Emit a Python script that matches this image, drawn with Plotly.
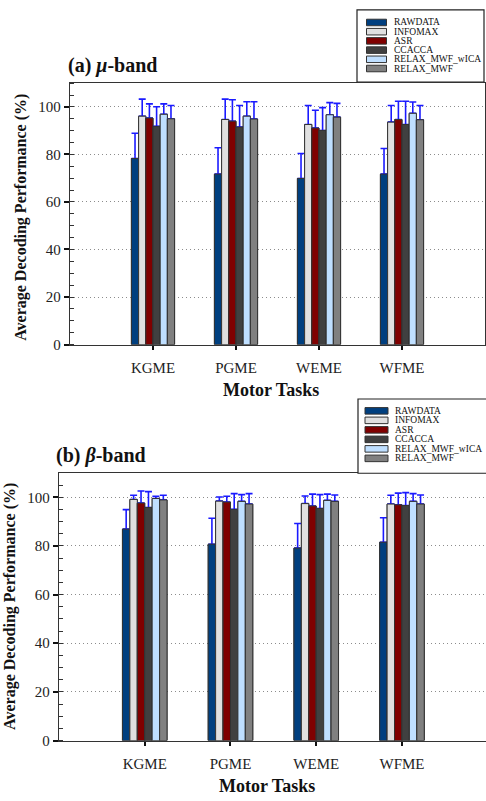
import plotly.graph_objects as go

# ---- data -------------------------------------------------------------
tasks = ["KGME", "PGME", "WEME", "WFME"]
methods = ["RAWDATA", "INFOMAX", "ASR", "CCACCA", "RELAX_MWF_wICA", "RELAX_MWF"]
colors = ["#003f7f", "#e0e0e0", "#800000", "#404040", "#bfdfff", "#808080"]

# (a) mu-band: mean decoding performance (%) and standard deviation
mu_rawdata = [78.3, 71.7, 69.9, 71.7]
mu_infomax = [96.1, 94.7, 92.6, 93.6]
mu_asr = [95.3, 94.0, 91.1, 94.7]
mu_ccacca = [91.8, 91.5, 90.1, 92.6]
mu_relax_wica = [96.9, 96.1, 96.7, 97.3]
mu_relax = [95.0, 94.9, 95.7, 94.6]

mu_rawdata_sd = [10.6, 11.1, 10.5, 10.8]
mu_infomax_sd = [7.2, 8.6, 8.0, 7.0]
mu_asr_sd = [6.0, 9.0, 7.5, 7.7]
mu_ccacca_sd = [8.3, 9.1, 9.6, 9.8]
mu_relax_wica_sd = [4.4, 6.1, 5.1, 4.8]
mu_relax_sd = [5.6, 7.3, 5.8, 6.0]

# (b) beta-band
beta_rawdata = [86.9, 80.7, 79.1, 81.5]
beta_infomax = [99.1, 98.4, 97.4, 97.2]
beta_asr = [97.6, 98.0, 96.4, 96.9]
beta_ccacca = [95.8, 95.0, 95.4, 96.6]
beta_relax_wica = [99.5, 98.3, 98.7, 98.3]
beta_relax = [98.9, 97.2, 98.3, 97.2]

beta_rawdata_sd = [8.0, 10.7, 10.1, 10.1]
beta_infomax_sd = [1.7, 1.7, 3.1, 3.6]
beta_asr_sd = [5.0, 2.4, 4.9, 4.8]
beta_ccacca_sd = [6.5, 6.5, 5.7, 5.3]
beta_relax_wica_sd = [0.9, 2.8, 2.6, 3.2]
beta_relax_sd = [1.9, 4.3, 2.6, 3.7]

y_ticks = [0, 20, 40, 60, 80, 100]

mu_means = [mu_rawdata, mu_infomax, mu_asr, mu_ccacca, mu_relax_wica, mu_relax]
mu_sds = [mu_rawdata_sd, mu_infomax_sd, mu_asr_sd, mu_ccacca_sd, mu_relax_wica_sd, mu_relax_sd]
beta_means = [beta_rawdata, beta_infomax, beta_asr, beta_ccacca, beta_relax_wica, beta_relax]
beta_sds = [beta_rawdata_sd, beta_infomax_sd, beta_asr_sd, beta_ccacca_sd, beta_relax_wica_sd, beta_relax_sd]

# ---- page geometry helpers (pixels -> paper) ---------------------------
W, H = 486, 801
SERIF = "Liberation Serif"


def px(x):
    return x / W


def py(y):
    return 1 - y / H


fig = go.Figure()

panels = [("x", "y", mu_means, mu_sds), ("x2", "y2", beta_means, beta_sds)]
for xa, ya, means, sds in panels:
    for name, color, m, s in zip(methods, colors, means, sds):
        # one-sided (upper) error bar, then the bar itself on top of its base cap
        fig.add_trace(go.Bar(
            x=tasks, y=m, xaxis=xa, yaxis=ya, offsetgroup=name,
            marker=dict(color=color, line=dict(color="#333333", width=1)),
            error_y=dict(type="data", symmetric=False, array=s,
                         arrayminus=[0] * len(s), color="#1a1aff",
                         thickness=1.6, width=3.5),
            showlegend=False, hoverinfo="skip",
        ))
        fig.add_trace(go.Bar(
            x=tasks, y=m, xaxis=xa, yaxis=ya, offsetgroup=name, name=name,
            marker=dict(color=color, line=dict(color="#333333", width=1)),
            showlegend=False,
        ))

axis_line = dict(showline=True, linecolor="#333333", linewidth=1.3)
xcommon = dict(type="category", ticks="outside", ticklen=4, tickwidth=2,
               tickcolor="#111111", tickfont=dict(family=SERIF, size=15, color="#222222"),
               ticklabelstandoff=5, showgrid=False, zeroline=False, **axis_line)
ycommon = dict(range=[0, 110], tickvals=y_ticks, ticks="outside", ticklen=5,
               tickwidth=2, tickcolor="#111111",
               tickfont=dict(family=SERIF, size=15, color="#222222"),
               minor=dict(dtick=5, tick0=0, ticks="inside", ticklen=4,
                          tickcolor="#333333", tickwidth=1, showgrid=False),
               showgrid=True, gridcolor="#8c8c8c", griddash="1px,3px", gridwidth=1,
               zeroline=False, **axis_line)

fig.update_layout(
    width=W, height=H,
    margin=dict(l=0, r=0, t=0, b=0),
    paper_bgcolor="white", plot_bgcolor="white",
    barmode="group", bargap=0.48, bargroupgap=0,
    showlegend=False,
    xaxis=dict(domain=[px(70), px(485)], range=[-1, 4], anchor="y", mirror=True, **xcommon),
    yaxis=dict(domain=[py(348), py(84)], anchor="x", mirror=True, **ycommon),
    xaxis2=dict(domain=[px(59), 1.0], range=[-1, 3.98], anchor="y2", mirror=True, **xcommon),
    yaxis2=dict(domain=[py(748), py(477.7)], anchor="x2", mirror=False, **ycommon),
)

annotations = []
shapes = []

# panel titles
annotations.append(dict(text="<b>(a) <i>μ</i>-band</b>", x=px(66), y=py(66),
                        xref="paper", yref="paper", xanchor="left", yanchor="middle",
                        showarrow=False, font=dict(family=SERIF, size=20, color="#111111")))
annotations.append(dict(text="<b>(b) <i>β</i>-band</b>", x=px(54), y=py(460),
                        xref="paper", yref="paper", xanchor="left", yanchor="middle",
                        showarrow=False, font=dict(family=SERIF, size=20, color="#111111")))

# axis titles
for xc, yc in [(21, 220), (10, 613)]:
    annotations.append(dict(text="<b>Average Decoding Performance (%)</b>", x=px(xc), y=py(yc),
                            xref="paper", yref="paper", xanchor="center", yanchor="middle",
                            textangle=-90, showarrow=False,
                            font=dict(family=SERIF, size=16, color="#111111")))
for xc, yc in [(271, 394), (267, 794)]:
    annotations.append(dict(text="<b>Motor Tasks</b>", x=px(xc), y=py(yc),
                            xref="paper", yref="paper", xanchor="center", yanchor="middle",
                            showarrow=False, font=dict(family=SERIF, size=18, color="#111111")))

# legends drawn as boxed swatch lists above each panel
legend_specs = [
    dict(box=(357, 10, 484, 83), y0=22.7, step=9.3, sw=(366.5, 386.5)),
    dict(box=(358, 403, 492, 478), y0=415, step=9.6, sw=(365, 388)),
]
for spec in legend_specs:
    bx0, by0, bx1, by1 = spec["box"]
    shapes.append(dict(type="rect", xref="paper", yref="paper",
                       x0=px(bx0), x1=px(bx1), y0=py(by1), y1=py(by0),
                       line=dict(color="#222222", width=1.2), fillcolor="white", layer="above"))
    for k, (name, color) in enumerate(zip(methods, colors)):
        yc = spec["y0"] + spec["step"] * k
        shapes.append(dict(type="rect", xref="paper", yref="paper",
                           x0=px(spec["sw"][0]), x1=px(spec["sw"][1]),
                           y0=py(yc + 3.3), y1=py(yc - 3.3),
                           line=dict(color="#333333", width=1), fillcolor=color, layer="above"))
        annotations.append(dict(text=name, x=px(spec["sw"][1] + 5), y=py(yc),
                                xref="paper", yref="paper", xanchor="left", yanchor="middle",
                                showarrow=False,
                                font=dict(family=SERIF, size=9.5, color="#111111")))

fig.update_layout(annotations=annotations, shapes=shapes)

fig.write_html("out.html")
